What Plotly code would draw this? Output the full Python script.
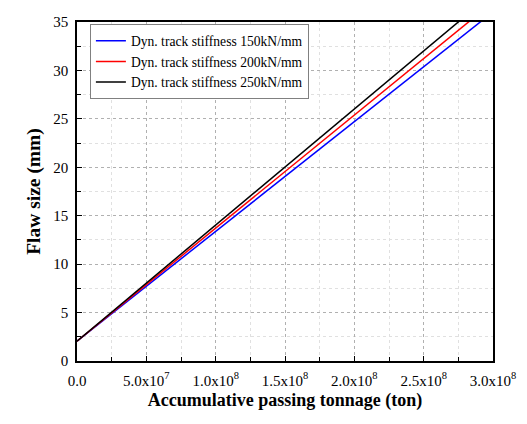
import plotly.graph_objects as go

# Accumulative passing tonnage (ton)
tonnage = [0, 2.5e7, 5.0e7, 7.5e7, 1.0e8, 1.25e8, 1.5e8, 1.75e8, 2.0e8, 2.25e8, 2.5e8, 2.75e8, 3.0e8]

# Flaw size (mm) per dynamic track stiffness
flaw_150 = [2.05, 4.88, 7.72, 10.55, 13.38, 16.21, 19.05, 21.88, 24.71, 27.54, 30.38, 33.21, 36.04]
flaw_200 = [2.05, 4.97, 7.89, 10.80, 13.72, 16.64, 19.56, 22.47, 25.39, 28.31, 31.23, 34.14, 37.06]
flaw_250 = [2.05, 5.05, 8.04, 11.04, 14.03, 17.03, 20.02, 23.02, 26.00, 29.00, 32.00, 35.00, 38.00]

series_names = ["Dyn. track stiffness 150kN/mm",
                "Dyn. track stiffness 200kN/mm",
                "Dyn. track stiffness 250kN/mm"]
series_colors = ["#0000ff", "#ff0000", "#000000"]

x_tickvals = [0, 5e7, 1e8, 1.5e8, 2e8, 2.5e8, 3e8]
x_ticktext = ["0.0", "5.0x10<sup>7</sup>", "1.0x10<sup>8</sup>", "1.5x10<sup>8</sup>",
              "2.0x10<sup>8</sup>", "2.5x10<sup>8</sup>", "3.0x10<sup>8</sup>"]
y_tickvals = [0, 5, 10, 15, 20, 25, 30, 35]

fig = go.Figure()
for ys, name, col in zip([flaw_150, flaw_200, flaw_250], series_names, series_colors):
    fig.add_trace(go.Scatter(x=tonnage, y=ys, mode="lines", name=name,
                             line=dict(color=col, width=1.5)))

font_family = "Liberation Serif"
fig.update_layout(
    width=519, height=416,
    margin=dict(l=69, r=34, t=6, b=63),
    paper_bgcolor="white", plot_bgcolor="white",
    font=dict(family=font_family, color="black", size=14),
    showlegend=True,
    legend=dict(x=0.031, y=0.993, xanchor="left", yanchor="top",
                bgcolor="white", bordercolor="#808080", borderwidth=1,
                font=dict(family=font_family, size=13.6, color="black"),
                itemwidth=30, tracegroupgap=0),
)
fig.update_xaxes(
    range=[0, 3e8], tickvals=x_tickvals, ticktext=x_ticktext,
    showline=True, linecolor="black", linewidth=1.5, mirror=True,
    ticks="inside", ticklen=5, tickcolor="black",
    ticklabelstandoff=5,
    showgrid=True, gridcolor="#b0b0b0", griddash="dot", gridwidth=1,
    minor=dict(dtick=2.5e7, tick0=0, ticks="inside", ticklen=4, tickcolor="black",
               showgrid=True, gridcolor="#e0e0e0", griddash="dot", gridwidth=1),
    zeroline=False,
    tickfont=dict(family=font_family, size=15),
    title=dict(text="<b>Accumulative passing tonnage (ton)</b>",
               font=dict(family=font_family, size=18), standoff=6),
)
fig.update_yaxes(
    range=[0, 35], tickvals=y_tickvals,
    showline=True, linecolor="black", linewidth=1.5, mirror=True,
    ticks="inside", ticklen=5, tickcolor="black",
    ticklabelstandoff=4,
    showgrid=True, gridcolor="#b0b0b0", griddash="dot", gridwidth=1,
    minor=dict(dtick=2.5, tick0=0, ticks="inside", ticklen=4, tickcolor="black",
               showgrid=True, gridcolor="#e0e0e0", griddash="dot", gridwidth=1),
    zeroline=False,
    tickfont=dict(family=font_family, size=15),
    title=dict(text="<b>Flaw size (mm)</b>",
               font=dict(family=font_family, size=19.5), standoff=7),
)

fig.write_html("out.html")
